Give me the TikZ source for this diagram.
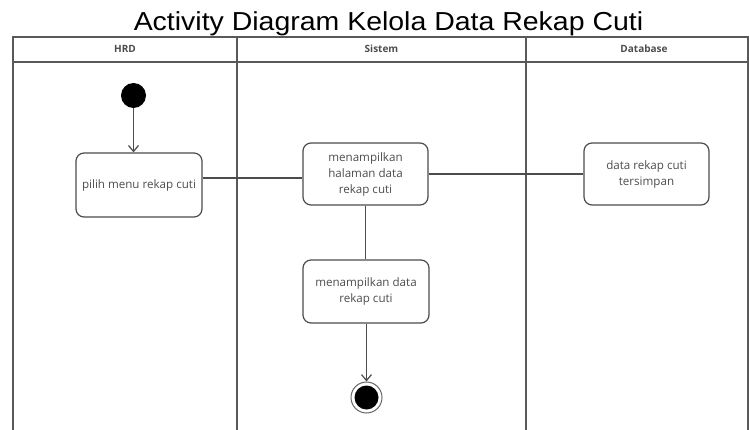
\documentclass[tikz,border=0pt]{standalone}
\usepackage{fontspec}
\setmainfont{Liberation Sans}
\newfontfamily\lblfont{Open Sans}
\usetikzlibrary{arrows.meta}
\begin{document}
\begin{tikzpicture}[x=1pt,y=-1pt,
  lane/.style={draw=black!65, line width=1.3pt},
  act/.style={draw=black!70, line width=1.2pt, rounded corners=8pt, align=center,
    font=\lblfont\fontsize{11.6}{16}\selectfont, text=black!70, inner sep=0pt,
    minimum width=125pt, minimum height=62pt},
  flow/.style={draw=black!70, line width=1.2pt},
  flowarr/.style={flow, -{Straight Barb[length=6pt,width=10pt]}},
  hdr/.style={font=\lblfont\bfseries\fontsize{10}{12}\selectfont, text=black!70}
]
\useasboundingbox (0,0) rectangle (749,430);

% title
\node[font=\fontsize{26}{28}\selectfont, anchor=base, xscale=1.095] (title) at (388.5,31) {Activity Diagram Kelola Data Rekap Cuti};

% swimlane frame
\draw[lane] (13,430) -- (13,37) -- (748,37) -- (748,430);
\draw[lane] (13,62) -- (748,62);
\draw[lane] (237,37) -- (237,430);
\draw[lane] (526,37) -- (526,430);
\node[hdr] (hHRD) at (125,49) {HRD};
\node[hdr] (hSis) at (381.5,49) {Sistem};
\node[hdr] (hDb) at (644,49) {Database};

% activity nodes
\node[circle, fill=black, minimum size=25pt, inner sep=0pt] (start) at (133.5,95.5) {};
\node[act, minimum width=126pt, minimum height=64pt] (b1) at (139,185) {pilih menu rekap cuti};
\node[act] (b2) at (365.5,174) {menampilkan\\halaman data\\rekap cuti};
\node[act] (b3) at (646.5,174) {data rekap cuti\\tersimpan};
\node[act, minimum width=126pt, minimum height=63pt] (b4) at (366,291.5) {menampilkan data\\rekap cuti};
\node[circle, draw=black!60, line width=1pt, fill=white, minimum size=31pt, inner sep=0pt] (stop) at (366.5,397.5) {};
\node[circle, fill=black, minimum size=24pt, inner sep=0pt] (stopin) at (stop.center) {};

% connectors
\draw[flowarr] (start) -- (start |- b1.north);
\draw[flow] ([yshift=7pt]b1.east) -- ([yshift=7pt]b1.east -| b2.west);
\draw[flow] (b2.east) -- (b3.west);
\draw[flow] (b2.south) -- (b4.north -| b2.south);
\draw[flowarr] (b4.south -| stop) -- (stop);
\end{tikzpicture}
\end{document}
